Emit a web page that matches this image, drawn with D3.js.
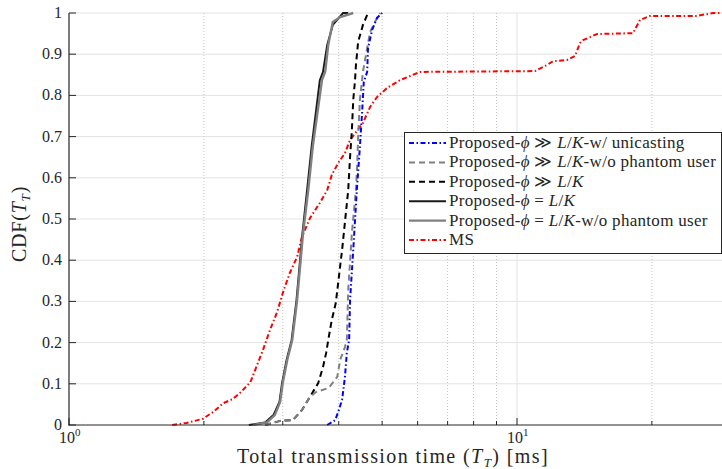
<!DOCTYPE html>
<html>
<head>
<meta charset="utf-8">
<script src="https://cdn.jsdelivr.net/npm/d3@7"></script>
<style>
  body { margin: 0; background: #fff; }
  text { font-family: "Liberation Serif", "Times New Roman", serif; fill: #262626; }
</style>
</head>
<body>
<svg id="chart" width="722" height="469"></svg>
<script>
// CDF curves: [transmission time in ms, CDF]
var unicast = [[3.77,0],[3.93,0.012],[3.99,0.032],[4.07,0.061],[4.13,0.117],[4.17,0.175],[4.22,0.206],[4.24,0.303],[4.31,0.425],[4.39,0.570],[4.46,0.675],[4.51,0.757],[4.55,0.833],[4.63,0.857],[4.65,0.915],[4.75,0.959],[4.87,0.988],[5.00,1]];
var ggNoPhantom = [[2.74,0],[2.96,0.010],[3.16,0.012],[3.31,0.036],[3.45,0.068],[3.56,0.080],[3.80,0.090],[3.97,0.117],[4.03,0.158],[4.13,0.189],[4.17,0.206],[4.20,0.328],[4.28,0.466],[4.37,0.570],[4.40,0.636],[4.42,0.699],[4.46,0.789],[4.51,0.837],[4.53,0.857],[4.63,0.915],[4.70,0.954],[4.82,0.978],[4.95,1]];
var gg = [[2.74,0],[2.96,0.010],[3.16,0.012],[3.31,0.036],[3.45,0.068],[3.60,0.102],[3.69,0.141],[3.75,0.175],[3.79,0.206],[3.86,0.255],[3.94,0.296],[4.07,0.425],[4.20,0.570],[4.24,0.650],[4.28,0.716],[4.31,0.789],[4.35,0.837],[4.37,0.874],[4.42,0.930],[4.53,0.971],[4.65,1]];
var eq = [[2.52,0],[2.74,0.006],[2.86,0.024],[2.95,0.056],[2.99,0.102],[3.06,0.158],[3.14,0.206],[3.22,0.303],[3.32,0.466],[3.40,0.570],[3.48,0.675],[3.63,0.837],[3.69,0.857],[3.77,0.922],[3.88,0.971],[4.09,1],[4.20,1]];
var eqNoPhantom = [[2.58,0],[2.77,0.007],[2.88,0.024],[2.96,0.056],[3.00,0.102],[3.07,0.158],[3.15,0.206],[3.23,0.303],[3.33,0.466],[3.42,0.570],[3.50,0.675],[3.67,0.837],[3.73,0.857],[3.79,0.922],[3.88,0.978],[4.03,0.990],[4.31,1]];
var ms = [[1.70,0],[1.83,0.005],[1.99,0.015],[2.10,0.032],[2.21,0.053],[2.32,0.063],[2.41,0.078],[2.54,0.104],[2.71,0.182],[2.81,0.231],[2.91,0.272],[3.00,0.320],[3.11,0.369],[3.23,0.408],[3.31,0.456],[3.45,0.502],[3.63,0.539],[3.77,0.570],[3.86,0.607],[3.99,0.636],[4.13,0.660],[4.24,0.692],[4.53,0.733],[4.70,0.772],[4.87,0.796],[5.13,0.818],[5.48,0.837],[5.77,0.847],[6.08,0.857],[10.97,0.859],[11.67,0.874],[12.03,0.883],[12.93,0.886],[13.48,0.896],[13.82,0.927],[14.04,0.934],[15.09,0.949],[18.15,0.951],[18.82,0.983],[19.81,0.993],[25.22,0.993],[27.38,1],[30,1]];

var yTicks = [0,0.1,0.2,0.3,0.4,0.5,0.6,0.7,0.8,0.9,1];
var yTickLabels = ["0","0.1","0.2","0.3","0.4","0.5","0.6","0.7","0.8","0.9","1"];
var xMajor = [1, 10];
var xMinor = [2,3,4,5,6,7,8,9,20,30];

var svg = d3.select("#chart");
var x = d3.scaleLog().domain([1, 30]).range([69, 69 + 448 * Math.log10(30)]);
var y = d3.scaleLinear().domain([0, 1]).range([425, 13]);

svg.append("defs").append("clipPath").attr("id", "clip")
  .append("rect").attr("x", 69).attr("y", 0).attr("width", 653).attr("height", 426);

// grid
var grid = svg.append("g");
grid.selectAll(".hg").data(yTicks.slice(1)).enter().append("line")
  .attr("x1", 69).attr("x2", 722)
  .attr("y1", function(d) { return y(d); }).attr("y2", function(d) { return y(d); })
  .attr("stroke", "#e3e3e3").attr("stroke-width", 1);
grid.selectAll(".vmaj").data(xMajor.slice(1)).enter().append("line")
  .attr("x1", function(d) { return x(d); }).attr("x2", function(d) { return x(d); })
  .attr("y1", 13).attr("y2", 425)
  .attr("stroke", "#e3e3e3").attr("stroke-width", 1);
grid.selectAll(".vmin").data(xMinor.filter(function(d) { return x(d) < 722; })).enter().append("line")
  .attr("x1", function(d) { return x(d); }).attr("x2", function(d) { return x(d); })
  .attr("y1", 13).attr("y2", 425)
  .attr("stroke", "#c4c4c4").attr("stroke-width", 1).attr("stroke-dasharray", "1,2");

var series = [
  { data: ms, color: "#ff0000", dash: "5,2.5,1.5,2.5", width: 2 },
  { data: eq, color: "#1a1a1a", dash: null, width: 2 },
  { data: eqNoPhantom, color: "#808080", dash: null, width: 2.4 },
  { data: gg, color: "#000000", dash: "6,4", width: 2 },
  { data: ggNoPhantom, color: "#808080", dash: "6,4", width: 2 },
  { data: unicast, color: "#0000ff", dash: "5,2.5,1.5,2.5", width: 2 }
];

var line = d3.line()
  .x(function(d) { return x(d[0]); })
  .y(function(d) { return y(d[1]); });

var plot = svg.append("g").attr("clip-path", "url(#clip)");
series.forEach(function(s) {
  plot.append("path")
    .attr("d", line(s.data))
    .attr("fill", "none")
    .attr("stroke", s.color)
    .attr("stroke-width", s.width)
    .attr("stroke-dasharray", s.dash);
});

// axes
var ax = svg.append("g").attr("stroke", "#262626");
ax.append("line").attr("x1", 69).attr("x2", 69).attr("y1", 13).attr("y2", 425.5).attr("stroke-width", 1.2);
ax.append("line").attr("x1", 68.5).attr("x2", 722).attr("y1", 425).attr("y2", 425).attr("stroke-width", 1.2);
ax.selectAll(".yt").data(yTicks).enter().append("line")
  .attr("x1", 69).attr("x2", 76)
  .attr("y1", function(d) { return y(d); }).attr("y2", function(d) { return y(d); });
ax.selectAll(".xt").data(xMajor).enter().append("line")
  .attr("x1", function(d) { return x(d); }).attr("x2", function(d) { return x(d); })
  .attr("y1", 425).attr("y2", 418);
ax.selectAll(".xm").data(xMinor.filter(function(d) { return x(d) < 722; })).enter().append("line")
  .attr("x1", function(d) { return x(d); }).attr("x2", function(d) { return x(d); })
  .attr("y1", 425).attr("y2", 421);

svg.selectAll(".yl").data(yTicks).enter().append("text")
  .attr("x", 62).attr("y", function(d) { return y(d) + 5; })
  .attr("text-anchor", "end").style("font-size", "16px")
  .text(function(d, i) { return yTickLabels[i]; });

xMajor.forEach(function(v, i) {
  var t = svg.append("text").attr("x", x(v) - 10).attr("y", 443).style("font-size", "16px");
  t.append("tspan").text("10");
  t.append("tspan").attr("dy", -7).style("font-size", "11px").text(String(i));
});

// axis titles
var xt = svg.append("text").attr("x", 393).attr("y", 463).attr("text-anchor", "middle")
  .style("font-size", "20px").style("letter-spacing", "1.4px");
xt.append("tspan").text("Total transmission time (");
xt.append("tspan").style("font-style", "italic").text("T");
xt.append("tspan").attr("dy", 4).style("font-size", "13px").style("font-style", "italic").text("T");
xt.append("tspan").attr("dy", -4).text(") [ms]");

var yt = svg.append("text").attr("transform", "translate(26,224) rotate(-90)").attr("text-anchor", "middle")
  .style("font-size", "20px").style("letter-spacing", "0.8px");
yt.append("tspan").text("CDF(");
yt.append("tspan").style("font-style", "italic").text("T");
yt.append("tspan").attr("dy", 4).style("font-size", "13px").style("font-style", "italic").text("T");
yt.append("tspan").attr("dy", -4).text(")");

// legend
var legendItems = [
  { s: series[5], parts: [["Proposed-",0],["ϕ",1],[" ≫ ",0],["L",1],["/",0],["K",1],["-w/ unicasting",0]] },
  { s: series[4], parts: [["Proposed-",0],["ϕ",1],[" ≫ ",0],["L",1],["/",0],["K",1],["-w/o phantom user",0]] },
  { s: series[3], parts: [["Proposed-",0],["ϕ",1],[" ≫ ",0],["L",1],["/",0],["K",1]] },
  { s: series[1], parts: [["Proposed-",0],["ϕ",1],[" = ",0],["L",1],["/",0],["K",1]] },
  { s: series[2], parts: [["Proposed-",0],["ϕ",1],[" = ",0],["L",1],["/",0],["K",1],["-w/o phantom user",0]] },
  { s: series[0], parts: [["MS",0]] }
];
var lg = svg.append("g");
lg.append("rect").attr("x", 404.5).attr("y", 132.5).attr("width", 317).attr("height", 121)
  .attr("fill", "#fff").attr("stroke", "#262626").attr("stroke-width", 1);
legendItems.forEach(function(it, i) {
  var yy = 143 + i * 19.4;
  lg.append("line").attr("x1", 409).attr("x2", 446).attr("y1", yy).attr("y2", yy)
    .attr("stroke", it.s.color).attr("stroke-width", it.s.width).attr("stroke-dasharray", it.s.dash);
  var t = lg.append("text").attr("x", 449).attr("y", yy + 5)
    .style("font-size", "17px").style("letter-spacing", "0.3px");
  it.parts.forEach(function(p) {
    t.append("tspan").style("font-style", p[1] ? "italic" : "normal").text(p[0]);
  });
});
</script>
</body>
</html>
